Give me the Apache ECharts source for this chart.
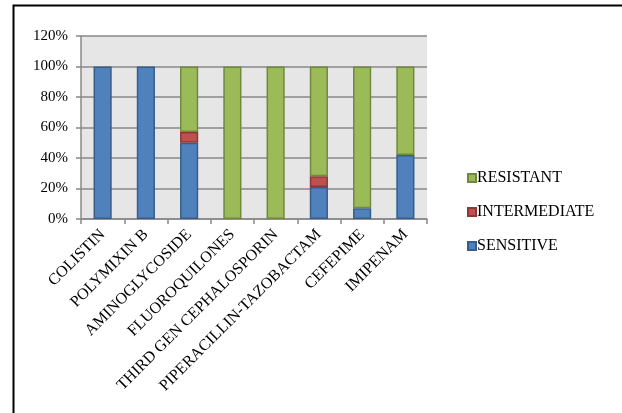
<!DOCTYPE html>
<html><head><meta charset="utf-8">
<script src="https://cdn.jsdelivr.net/npm/echarts@6/dist/echarts.min.js"></script>
<style>html,body{margin:0;padding:0;background:#fff}#c{width:622px;height:413px}</style>
</head><body><div id="c"></div>
<script>
var categories = ['COLISTIN','POLYMIXIN B','AMINOGLYCOSIDE','FLUOROQUILONES','THIRD GEN CEPHALOSPORIN','PIPERACILLIN-TAZOBACTAM','CEFEPIME','IMIPENAM'];
var sensitive    = [100, 100, 50, 0, 0, 21, 7, 42];
var intermediate = [0, 0, 7, 0, 0, 7, 0, 0];
var resistant    = [0, 0, 43, 100, 100, 72, 93, 58];
var yTicks = [0, 20, 40, 60, 80, 100, 120];

var font = 'Liberation Serif';
var chart = echarts.init(document.getElementById('c'), null, {renderer:'canvas'});
function ser(name, data, color, border){
  return {name:name, type:'bar', stack:'a',
    data:data.map(function(v){return v === 0 ? '-' : v;}), barWidth:'42%',
    itemStyle:{color:color, borderColor:border, borderWidth:1.5}};
}
chart.setOption({
  animation:false,
  graphic:[
    {type:'polyline', shape:{points:[[13.5,420],[13.5,5.5],[630,5.5]]}, style:{stroke:'#000', lineWidth:2, fill:null}, z:10}
  ],
  legend:{
    orient:'vertical', left:462, top:165, itemWidth:8, itemHeight:8, itemGap:18,
    icon:'rect',
    data:['RESISTANT','INTERMEDIATE','SENSITIVE'],
    textStyle:{fontFamily:font, fontSize:16, lineHeight:16, color:'#000', padding:[0,0,0,-4]}
  },
  grid:{left:81, top:36, right:195, bottom:194, show:true, backgroundColor:'#e6e6e6', borderWidth:0},
  xAxis:{type:'category', data:categories,
    axisLine:{lineStyle:{color:'#888', width:1.5}},
    axisTick:{show:true, length:5, lineStyle:{color:'#888', width:1.5}},
    axisLabel:{rotate:45, interval:0, fontFamily:font, fontSize:16, color:'#000', margin:13}
  },
  yAxis:{type:'value', min:0, max:120, interval:20,
    axisLine:{show:true, lineStyle:{color:'#888', width:1.5}},
    axisTick:{show:true, length:5, lineStyle:{color:'#888', width:1.5}},
    splitLine:{lineStyle:{color:'#888', width:1.5}},
    axisLabel:{formatter:function(v){return v+'%';}, fontFamily:font, fontSize:15, color:'#000', margin:13}
  },
  series:[
    ser('SENSITIVE', sensitive, '#4F81BD', '#385D8A'),
    ser('INTERMEDIATE', intermediate, '#C0504D', '#8C3836'),
    ser('RESISTANT', resistant, '#9BBB59', '#71893F')
  ]
});
</script></body></html>
